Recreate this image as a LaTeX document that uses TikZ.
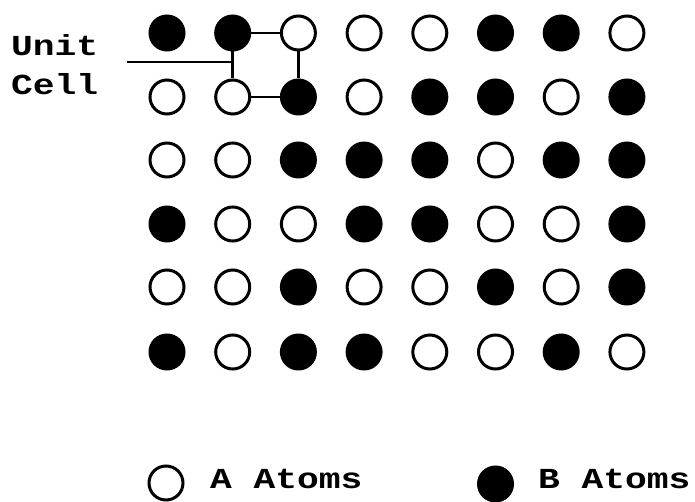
\documentclass[tikz,border=0pt]{standalone}
\usepackage{fontspec}
\newfontfamily\tw{Liberation Mono}[FakeStretch=1.25]
\colorlet{atA}{white}
\colorlet{atB}{black}
\tikzset{
  atom/.style={circle, draw=black, line width=3pt, fill=#1, minimum size=34pt, inner sep=0pt},
  cellline/.style={line width=2.5pt},
  lbl/.style={inner sep=0pt, font=\tw\bfseries\fontsize{29}{30}\selectfont},
}
\begin{document}
\begin{tikzpicture}[x=1pt, y=-1pt]
\useasboundingbox[fill=white] (0,0) rectangle (695,502);
\foreach \r/\y/\pat in {
  1/33/{B,B,A,A,A,B,B,A},
  2/97/{A,A,B,A,B,B,A,B},
  3/160/{A,A,B,B,B,A,B,B},
  4/224/{B,A,A,B,B,A,A,B},
  5/287/{A,A,B,A,A,B,A,B},
  6/352/{B,A,B,B,A,A,B,A}} {
  \foreach \t [count=\c] in \pat {
    \node[atom=at\t] (a\r\c) at ({167+65.7*(\c-1)}, \y) {};
  }
}
% unit cell
\draw[cellline] (a12) -- (a13);
\draw[cellline] (a13) -- (a23);
\draw[cellline] (a22) -- (a23);
\draw[cellline] (a12) -- (a22);
\coordinate (ptr) at (127,62);
\draw[cellline] (ptr) -- (ptr -| a12);
\node[lbl, anchor=base west] (unit) at (11,56) {Unit};
\node[lbl, anchor=base west] (cell) at (11,95) {Cell};
% legend
\node[atom=atA] (legA) at (166,483) {};
\node[lbl, anchor=base west] (txtA) at (210,488) {A Atoms};
\node[atom=atB] (legB) at (495.5,484) {};
\node[lbl, anchor=base west] (txtB) at (538,488) {B Atoms};
\end{tikzpicture}
\end{document}
